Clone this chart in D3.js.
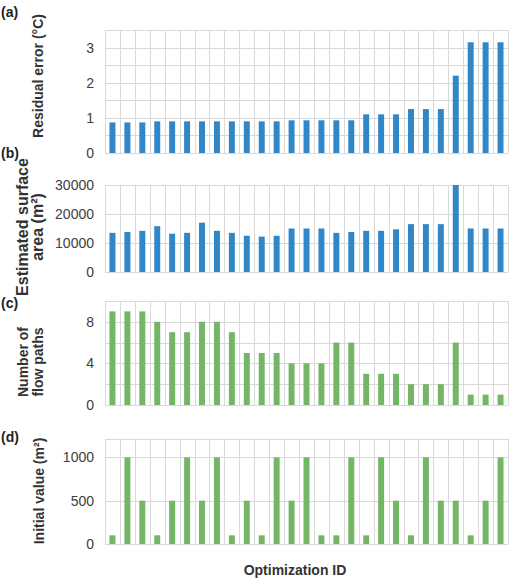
<!DOCTYPE html>
<html>
<head>
<meta charset="utf-8">
<script src="https://cdn.jsdelivr.net/npm/d3@7"></script>
<style>
  body { margin: 0; background: #fff; }
  svg { display: block; font-family: "Liberation Sans", Arial, sans-serif; }
</style>
</head>
<body>
<svg id="chart" width="513" height="578"></svg>
<script>
const ids = d3.range(1, 28);
const residualError = [0.87,0.87,0.87,0.9,0.9,0.9,0.9,0.9,0.9,0.9,0.9,0.9,0.93,0.93,0.93,0.93,0.93,1.1,1.1,1.1,1.25,1.25,1.25,2.2,3.15,3.15,3.15];
const surfaceArea = [13500,13800,14200,15800,13200,13500,17000,14200,13500,12500,12200,12500,15000,15000,15000,13500,13800,14200,14200,14700,16500,16500,16500,30000,15000,15000,15000];
const flowPaths = [9,9,9,8,7,7,8,8,7,5,5,5,4,4,4,6,6,3,3,3,2,2,2,6,1,1,1];
const initialValue = [100,1000,500,100,500,1000,500,1000,100,500,100,1000,500,1000,100,100,1000,100,1000,500,100,1000,500,500,100,500,1000];

const ticksA = [0,1,2,3];
const ticksB = [0,10000,20000,30000];
const ticksC = [0,4,8];
const ticksD = [0,500,1000];

const BLUE = "#2f86c8", GREEN = "#74b566", GRID = "#d9d9d9";
const svg = d3.select("#chart");
const left = 105, right = 508;

const panels = [
  {label:"(a)", labelY:17, top:30, bottom:153, data:residualError, domain:[0,3.5], ticks:ticksA, grid:d3.range(0,3.51,0.5), color:BLUE,
   title:["Residual error (°C)"], titleX:[38], titleY:76, titleSize:14},
  {label:"(b)", labelY:158, top:185, bottom:272, data:surfaceArea, domain:[0,30000], ticks:ticksB, grid:[0,10000,20000,30000], color:BLUE,
   title:["Estimated surface","area (m²)"], titleX:[22,37], titleY:227, titleSize:16},
  {label:"(c)", labelY:308, top:301, bottom:405, data:flowPaths, domain:[0,10], ticks:ticksC, grid:[0,2,4,6,8,10], color:GREEN,
   title:["Number of","flow paths"], titleX:[23,38], titleY:362, titleSize:14},
  {label:"(d)", labelY:442, top:439, bottom:544, data:initialValue, domain:[0,1212], ticks:ticksD, grid:[0,500,1000,1212], color:GREEN,
   title:["Initial value (m²)"], titleX:[39], titleY:491, titleSize:14}
];

const x = d3.scaleBand().domain(ids).range([left, right]).paddingInner(0).paddingOuter(0);

panels.forEach(p => {
  const y = d3.scaleLinear().domain(p.domain).range([p.bottom, p.top]);
  const g = svg.append("g");
  g.selectAll("line.h").data(p.grid).join("line")
    .attr("x1", left).attr("x2", right)
    .attr("y1", d => Math.round(y(d)) + 0.5).attr("y2", d => Math.round(y(d)) + 0.5)
    .attr("stroke", GRID).attr("stroke-width", 1);
  const bounds = ids.map(d => x(d)).concat([right]);
  g.selectAll("line.v").data(bounds).join("line")
    .attr("x1", d => Math.round(d) + 0.5).attr("x2", d => Math.round(d) + 0.5)
    .attr("y1", p.top).attr("y2", p.bottom)
    .attr("stroke", GRID).attr("stroke-width", 1);
  const bw = x.bandwidth() * 0.4;
  g.selectAll("rect").data(p.data).join("rect")
    .attr("x", (d, i) => x(ids[i]) + (x.bandwidth() - bw) / 2)
    .attr("width", bw)
    .attr("y", d => y(d))
    .attr("height", d => y(0) - y(d))
    .attr("fill", p.color);
  const axis = d3.axisLeft(y).tickValues(p.ticks).tickSize(0).tickPadding(11).tickFormat(d3.format("d"));
  const ag = g.append("g").attr("transform", `translate(${left},0)`).call(axis);
  ag.select(".domain").remove();
  ag.selectAll("text").attr("font-size", 14).attr("fill", "#404040")
    .attr("font-family", "'Liberation Sans', Arial, sans-serif");
  p.title.forEach((t, i) => {
    svg.append("text")
      .attr("transform", `translate(${p.titleX[i] + p.titleSize * 0.36},${p.titleY}) rotate(-90)`)
      .attr("text-anchor", "middle")
      .attr("font-size", p.titleSize).attr("font-weight", "bold").attr("fill", "#333")
      .text(t);
  });
  svg.append("text").attr("x", 1).attr("y", p.labelY).text(p.label)
    .attr("font-size", 14).attr("font-weight", "bold").attr("fill", "#222");
});

svg.append("text").attr("x", 295).attr("y", 575).attr("text-anchor", "middle")
  .attr("font-size", 14).attr("font-weight", "bold").attr("fill", "#333")
  .text("Optimization ID");
</script>
</body>
</html>
